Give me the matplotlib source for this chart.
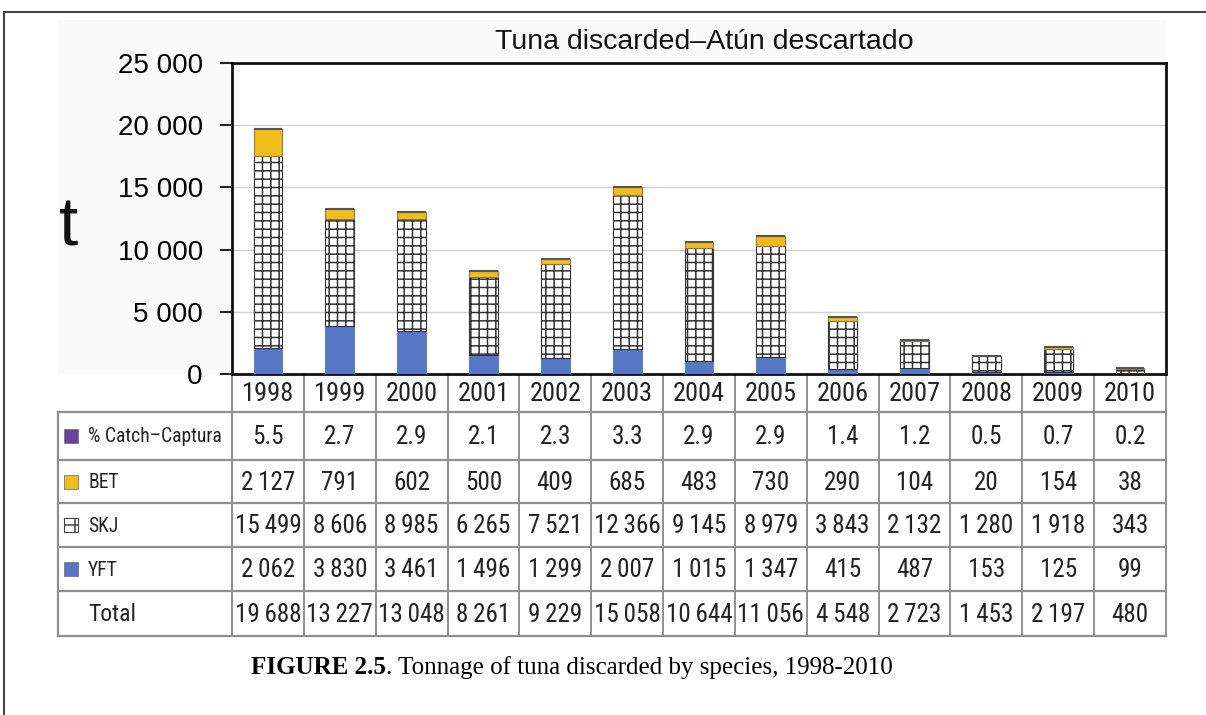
import matplotlib
matplotlib.use("Agg")
import matplotlib.pyplot as plt
from matplotlib.patches import Rectangle
from matplotlib.lines import Line2D
from matplotlib import font_manager as fm
from matplotlib.ft2font import FT2Font
import numpy as np

# ---------------- data ----------------
years = [1998, 1999, 2000, 2001, 2002, 2003, 2004, 2005, 2006, 2007, 2008, 2009, 2010]
pct_catch = [5.5, 2.7, 2.9, 2.1, 2.3, 3.3, 2.9, 2.9, 1.4, 1.2, 0.5, 0.7, 0.2]
bet = [2127, 791, 602, 500, 409, 685, 483, 730, 290, 104, 20, 154, 38]
skj = [15499, 8606, 8985, 6265, 7521, 12366, 9145, 8979, 3843, 2132, 1280, 1918, 343]
yft = [2062, 3830, 3461, 1496, 1299, 2007, 1015, 1347, 415, 487, 153, 125, 99]
total = [19688, 13227, 13048, 8261, 9229, 15058, 10644, 11056, 4548, 2723, 1453, 2197, 480]
row_labels = ["% Catch\u2013Captura", "BET", "SKJ", "YFT", "Total"]
yticks = [0, 5000, 10000, 15000, 20000, 25000]
title = "Tuna discarded\u2013At\u00fan descartado"

C_YFT = "#5577C6"
C_BET = "#F2BC1B"
C_PCT = "#6B3FA0"

W, H = 1206, 715
plt.rcParams["hatch.linewidth"] = 1.1
fig = plt.figure(figsize=(W / 100, H / 100), dpi=100)
renderer = fig.canvas.get_renderer()

SANS = ["Liberation Sans", "DejaVu Sans"]


def find_narrow():
    good = []
    for f in fm.fontManager.ttflist:
        fn = f.fname.lower()
        nm = f.name.lower()
        if f.style != "normal":
            continue
        if f.weight not in (400, "normal", "regular", "book"):
            continue
        if any(w in fn for w in ("extra", "ultra", "semi", "light", "thin", "medium", "black", "bold")):
            continue
        if ("narrow" in nm or "condensed" in nm or "narrow" in fn or "condensed" in fn
                or f.stretch == "condensed"):
            good.append(f)
    prefs = ["liberation sans narrow", "arial narrow", "roboto condensed",
             "noto sans", "open sans", "dejavu sans", "lato", "inter"]
    for p in prefs:
        for f in good:
            if f.name.lower().startswith(p):
                return f.fname
    if good:
        return good[0].fname
    return fm.findfont(fm.FontProperties(family="Liberation Sans"))


NARROW_FILE = find_narrow()
NARROW_FP = fm.FontProperties(fname=NARROW_FILE)
try:
    SEP = "\u2009" if FT2Font(NARROW_FILE).get_char_index(0x2009) else " "
except Exception:
    SEP = " "


def nfp(size):
    p = NARROW_FP.copy()
    p.set_size(size)
    return p


def text_width(s, fp):
    t = fig.text(0, 0, s, fontproperties=fp)
    w = t.get_window_extent(renderer).width
    t.remove()
    return w


# layout in pixels
PL, PR, PT, PB = 232, 1166, 63, 374
TL = 58
row_edges = [374, 412, 460, 503, 547, 591, 636]
colw = (PR - PL) / len(years)


def fx(x):
    return x / W


def fy(y):
    return 1 - y / H


def fmt(v, sep=" "):
    return f"{v:,}".replace(",", sep)


rows = [
    [f"{v:.1f}" for v in pct_catch],
    [fmt(v, SEP) for v in bet],
    [fmt(v, SEP) for v in skj],
    [fmt(v, SEP) for v in yft],
    [fmt(v, SEP) for v in total],
]

base = 20.0
widest = max(text_width(s, nfp(base)) for r in rows for s in r)
num_size = min(base, base * (colw - 5) / widest)
lab_base = 16
lab_w = text_width(row_labels[0], nfp(lab_base))
lab_size = min(lab_base, lab_base * 134 / lab_w)

# overlay axis in pixel coordinates
ov = fig.add_axes([0, 0, 1, 1], zorder=0)
ov.set_xlim(0, W)
ov.set_ylim(H, 0)
ov.axis("off")

ov.add_patch(Rectangle((TL, 20), PR - TL, PB - 20, facecolor="#fafafa", edgecolor="none"))
ov.add_line(Line2D([4, W], [12, 12], color="#444444", lw=1.5))
ov.add_line(Line2D([4, 4], [12, H], color="#444444", lw=1.5))

# ---------------- bar chart ----------------
ax = fig.add_axes([fx(PL), fy(PB), fx(PR - PL), (PB - PT) / H], zorder=2)
ax.set_facecolor("white")
x = np.arange(len(years))
bw = 0.4
yft_a = np.array(yft)
skj_a = np.array(skj)
bet_a = np.array(bet)
ax.bar(x, yft_a, bw, color=C_YFT, edgecolor="#6f7fa8", linewidth=0.8, zorder=3)
ax.bar(x, skj_a, bw, bottom=yft_a, color="white", edgecolor="#333333",
       hatch="++", linewidth=0.8, zorder=3)
ax.bar(x, bet_a, bw, bottom=yft_a + skj_a, color=C_BET, edgecolor="#8a7a50",
       linewidth=0.8, zorder=3)
ax.bar(x, pct_catch, bw, bottom=yft_a + skj_a + bet_a, color=C_PCT,
       edgecolor="#555555", linewidth=1.5, zorder=3)

ax.set_xlim(-0.5, len(years) - 0.5)
ax.set_ylim(0, 25000)
ax.set_yticks(yticks)
ax.set_yticklabels([fmt(v) for v in yticks], fontsize=20, family=SANS)
ax.tick_params(axis="y", direction="out", length=9, width=1.5, pad=12, color="#222")
ax.set_xticks([])
ax.grid(axis="y", color="#d0d0d0", linewidth=1, zorder=0)
ax.set_axisbelow(True)
for s in ax.spines.values():
    s.set_linewidth(2)
    s.set_color("#111111")

fig.text(fx(704), fy(42), title, ha="center", va="center",
         fontsize=20.5, family=SANS, color="#111")
fig.text(fx(69), fy(228), "t", ha="center", va="center", fontsize=50,
         family=SANS, color="#111")

# ---------------- data table ----------------
grid_c = "#8f8f8f"
for i, y in enumerate(row_edges):
    if i == 0:
        continue
    ov.add_line(Line2D([TL, PR], [y, y], color=grid_c, lw=1.6))
for j in range(len(years) + 1):
    xx = PL + j * colw
    ov.add_line(Line2D([xx, xx], [row_edges[0], row_edges[-1]], color=grid_c, lw=1.4))
ov.add_line(Line2D([TL, TL], [row_edges[1], row_edges[-1]], color=grid_c, lw=1.6))

for j, yr in enumerate(years):
    cx = PL + (j + 0.5) * colw
    ov.text(cx, (row_edges[0] + row_edges[1]) / 2 + 1, str(yr), ha="center",
            va="center", fontproperties=nfp(min(20, num_size * 1.05)), color="#222")

for i, vals in enumerate(rows):
    cy = (row_edges[i + 1] + row_edges[i + 2]) / 2 + 1
    for j, s in enumerate(vals):
        cx = PL + (j + 0.5) * colw
        ov.text(cx, cy, s, ha="center", va="center", fontproperties=nfp(num_size),
                color="#222")

key_colors = [C_PCT, C_BET, None, C_YFT, "skip"]
for i, lab in enumerate(row_labels):
    cy = (row_edges[i + 1] + row_edges[i + 2]) / 2
    kc = key_colors[i]
    if kc != "skip":
        if kc is None:
            ov.add_patch(Rectangle((64, cy - 7), 14, 14, facecolor="white",
                                   edgecolor="#444", hatch="+", lw=0.8))
        else:
            ov.add_patch(Rectangle((64, cy - 7), 14, 14, facecolor=kc,
                                   edgecolor="#777", lw=0.6))
    ov.text(88, cy + 1, lab, ha="left", va="center",
            fontproperties=nfp(lab_size if i < 4 else lab_size * 1.2), color="#222")

# ---------------- caption ----------------
cap_y = 668
serif = ["Liberation Serif", "DejaVu Serif"]
t1 = fig.text(0, 0, "FIGURE 2.5", fontsize=18, fontweight="bold", family=serif)
t2 = fig.text(0, 0, ". Tonnage of tuna discarded by species, 1998-2010", fontsize=18,
              family=serif)
w1 = t1.get_window_extent(renderer).width
w2 = t2.get_window_extent(renderer).width
start = 572 - (w1 + w2) / 2
t1.set_position((fx(start), fy(cap_y)))
t1.set_va("center")
t2.set_position((fx(start + w1), fy(cap_y)))
t2.set_va("center")

fig.savefig("out.png", dpi=100)
